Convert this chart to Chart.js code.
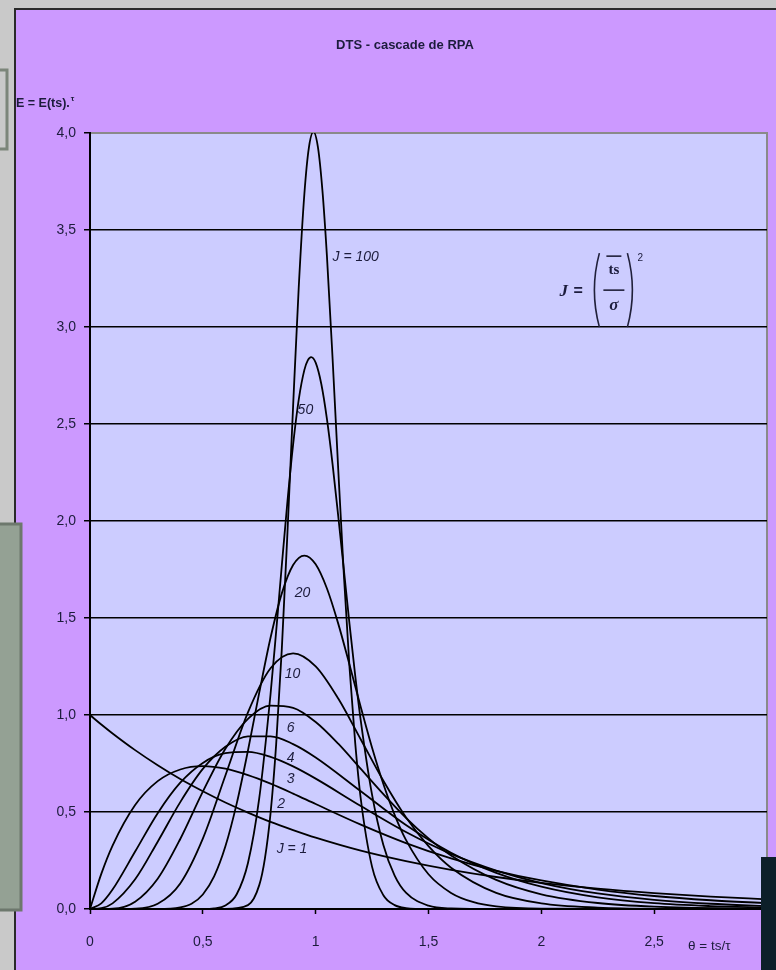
<!DOCTYPE html>
<html><head><meta charset="utf-8">
<script src="https://cdn.jsdelivr.net/npm/chart.js@4.4.1/dist/chart.umd.min.js"></script>
<style>html,body{margin:0;padding:0;background:#c9c9c9;overflow:hidden}#wrap{position:relative;width:776px;height:970px}</style>
</head><body><div id="wrap"><canvas id="c"></canvas></div>
<script>
// ---- data ----
const xTicks = [0, 0.5, 1, 1.5, 2, 2.5, 3];
const yTicks = [0, 0.5, 1, 1.5, 2, 2.5, 3, 3.5, 4];

const thetaA = [0,0.05,0.1,0.2,0.3,0.4,0.5,0.6,0.7,0.8,0.9,1.0,1.2,1.4,1.6,1.8,2.0,2.25,2.5,2.75,3.0];
const eJ1 = [1,0.951,0.905,0.819,0.741,0.670,0.607,0.549,0.497,0.449,0.407,0.368,0.301,0.247,0.202,0.165,0.135,0.105,0.082,0.064,0.050];
const eJ2 = [0,0.181,0.327,0.536,0.659,0.719,0.736,0.723,0.690,0.646,0.595,0.541,0.435,0.340,0.261,0.197,0.147,0.100,0.067,0.045,0.030];
const eJ3 = [0,0.029,0.100,0.296,0.494,0.651,0.753,0.803,0.810,0.784,0.735,0.672,0.531,0.397,0.284,0.198,0.134,0.080,0.047,0.027,0.015];
const eJ4 = [0,0.004,0.029,0.153,0.347,0.551,0.722,0.836,0.890,0.890,0.850,0.781,0.607,0.433,0.290,0.186,0.115,0.060,0.030,0.015,0.007];

const thetaB = [0,0.1,0.2,0.3,0.4,0.5,0.6,0.7,0.8,0.9,1.0,1.1,1.2,1.3,1.4,1.5,1.6,1.8,2.0,2.25,2.5,3.0];
const eJ6  = [0,0.002,0.038,0.156,0.361,0.605,0.826,0.980,1.048,1.037,0.964,0.852,0.722,0.592,0.470,0.364,0.276,0.150,0.076,0.031,0.012,0.001];
const eJ10 = [0,0,0.002,0.027,0.132,0.363,0.688,1.014,1.241,1.318,1.251,1.085,0.874,0.661,0.473,0.324,0.213,0.083,0.029,0.007,0.001,0];

const thetaC = [0,0.3,0.4,0.45,0.5,0.55,0.6,0.65,0.7,0.75,0.8,0.85,0.9,0.95,1.0,1.05,1.1,1.15,1.2,1.25,1.3,1.35,1.4,1.5,1.6,1.7,1.8,2.0,2.5,3.0];
const eJ20 = [0,0,0.008,0.027,0.075,0.168,0.323,0.543,0.817,1.115,1.398,1.627,1.773,1.822,1.777,1.652,1.471,1.259,1.040,0.831,0.644,0.485,0.356,0.179,0.083,0.035,0.014,0.002,0,0];

const thetaD = [0,0.5,0.55,0.6,0.65,0.7,0.75,0.8,0.825,0.85,0.875,0.9,0.925,0.95,0.965,0.98,1.0,1.025,1.05,1.075,1.1,1.125,1.15,1.175,1.2,1.25,1.3,1.35,1.4,1.5,1.6,1.8,2.0,3.0];
const eJ50 = [0,0,0.003,0.018,0.076,0.237,0.571,1.107,1.432,1.772,2.101,2.394,2.626,2.779,2.828,2.845,2.816,2.706,2.525,2.292,2.025,1.748,1.468,1.206,0.970,0.588,0.330,0.172,0.084,0.017,0.003,0,0,0];

const thetaE = [0,0.6,0.7,0.75,0.775,0.8,0.825,0.85,0.875,0.9,0.925,0.95,0.97,0.99,1.01,1.03,1.05,1.075,1.1,1.125,1.15,1.175,1.2,1.25,1.3,1.35,1.4,1.5,2.0,3.0];
const eJ100 = [0,0,0.020,0.123,0.260,0.493,0.850,1.341,1.941,2.591,3.205,3.687,3.925,4.006,3.927,3.703,3.364,2.836,2.267,1.722,1.245,0.859,0.567,0.217,0.071,0.020,0.005,0,0,0];

const seriesNames = ['J=1','J=2','J=3','J=4','J=6','J=10','J=20','J=50','J=100'];
const seriesTheta = [thetaA,thetaA,thetaA,thetaA,thetaB,thetaB,thetaC,thetaD,thetaE];
const seriesE     = [eJ1,eJ2,eJ3,eJ4,eJ6,eJ10,eJ20,eJ50,eJ100];

const labelTexts = ['J = 100','50','20','10','6','4','3','2','J = 1'];
const labelTheta = [1.075,0.92,0.907,0.863,0.872,0.872,0.872,0.83,0.827];
const labelE     = [3.36,2.57,1.63,1.21,0.93,0.78,0.67,0.54,0.31];

const titleText = 'DTS - cascade de RPA';
const yTitle = 'E = E(ts).';
const xTitle = 'θ = ts/τ';

// ---- chart ----
const FONT = "'Liberation Sans', Arial, sans-serif";
const TXT = '#1c1c3c';

const datasets = seriesNames.map((n, i) => ({
  label: n,
  data: seriesTheta[i].map((t, k) => ({x: t, y: seriesE[i][k]})),
  borderColor: '#000', borderWidth: 1.8, pointRadius: 0, fill: false,
  cubicInterpolationMode: 'monotone'
}));

const decor = {
  id: 'decor',
  beforeDraw(chart) {
    const c = chart.ctx, a = chart.chartArea, W = chart.width, H = chart.height;
    c.save();
    c.fillStyle = '#c9c9c9'; c.fillRect(0, 0, W, H);
    c.fillStyle = '#cc99ff'; c.fillRect(15, 9, W - 15, H - 9);
    c.strokeStyle = '#2a2a2a'; c.lineWidth = 2;
    c.beginPath(); c.moveTo(15, H); c.lineTo(15, 9); c.lineTo(W, 9); c.stroke();
    c.fillStyle = '#ccccff'; c.fillRect(a.left, a.top, a.right - a.left, a.bottom - a.top);
    c.strokeStyle = '#8a8a8a'; c.lineWidth = 2;
    c.beginPath(); c.moveTo(a.left, a.top); c.lineTo(a.right, a.top); c.lineTo(a.right, a.bottom); c.stroke();
    c.restore();
  },
  afterDatasetsDraw(chart) {
    const c = chart.ctx, xs = chart.scales.x, ys = chart.scales.y;
    c.save();
    c.fillStyle = TXT; c.textBaseline = 'middle'; c.textAlign = 'left';
    c.font = 'italic 14px ' + FONT;
    labelTexts.forEach((t, i) => {
      c.fillText(t, xs.getPixelForValue(labelTheta[i]), ys.getPixelForValue(labelE[i]));
    });
    // formula J = (ts/σ)^2 anchored at data point
    const fx = xs.getPixelForValue(2.08), fy = ys.getPixelForValue(3.19);
    c.font = 'italic bold 17px "Liberation Serif", "DejaVu Serif", serif';
    c.fillText('J', fx, fy + 1);
    c.font = 'bold 16px ' + FONT;
    c.fillText('=', fx + 14, fy + 1);
    c.strokeStyle = '#20203a'; c.lineWidth = 1.6;
    c.beginPath(); c.moveTo(fx + 40, fy - 37); c.quadraticCurveTo(fx + 30, fy, fx + 40, fy + 37); c.stroke();
    c.beginPath(); c.moveTo(fx + 68, fy - 37); c.quadraticCurveTo(fx + 78, fy, fx + 68, fy + 37); c.stroke();
    c.beginPath(); c.moveTo(fx + 47, fy - 34); c.lineTo(fx + 62, fy - 34); c.stroke();
    c.beginPath(); c.moveTo(fx + 44, fy); c.lineTo(fx + 65, fy); c.stroke();
    c.textAlign = 'center';
    c.font = 'bold 15px "Liberation Serif", "DejaVu Serif", serif';
    c.fillText('ts', fx + 54.5, fy - 20);
    c.font = 'italic bold 17px "Liberation Serif", "DejaVu Serif", serif';
    c.fillText('σ', fx + 54.5, fy + 15);
    c.font = '10px ' + FONT;
    c.fillText('2', fx + 81, fy - 32);
    c.restore();
  },
  afterDraw(chart) {
    const c = chart.ctx, W = chart.width, H = chart.height;
    c.save();
    // axis titles
    c.fillStyle = TXT; c.textBaseline = 'middle'; c.textAlign = 'left';
    c.font = 'bold 12.5px ' + FONT;
    c.fillText(yTitle, 16, 104);
    const w = c.measureText(yTitle).width;
    c.font = 'bold 8px ' + FONT;
    c.fillText('τ', 16 + w + 1, 99);
    c.font = '13.5px ' + FONT;
    c.fillText(xTitle, 688, 946);
    // overlapping boxes at the edges
    c.lineWidth = 3;
    c.fillStyle = '#c9c9c9'; c.strokeStyle = '#7c867a';
    c.beginPath(); c.rect(-6, 70, 13, 79); c.fill(); c.stroke();
    c.fillStyle = '#94a194'; c.strokeStyle = '#6d786d';
    c.beginPath(); c.rect(-6, 524, 27, 386); c.fill(); c.stroke();
    c.fillStyle = '#0c1f29';
    c.fillRect(761, 857, W - 761, H - 857);
    c.restore();
  }
};

new Chart(document.getElementById('c'), {
  type: 'line',
  data: { datasets },
  options: {
    responsive: true, maintainAspectRatio: false, animation: false,
    layout: { padding: { left: 43, right: 9, top: 0, bottom: 0 } },
    plugins: {
      legend: { display: false }, tooltip: { enabled: false },
      title: { display: true, text: titleText, color: TXT,
        font: { family: FONT, size: 13, weight: 'bold' },
        padding: { top: 38, bottom: 79.4 } }
    },
    scales: {
      x: {
        type: 'linear', min: 0, max: 3,
        afterBuildTicks: s => { s.ticks = xTicks.map(v => ({value: v})); },
        afterFit: s => { s.height = 61; s.paddingRight = 0; },
        ticks: { color: TXT, font: { family: FONT, size: 14 }, padding: 20, maxRotation: 0,
          callback: v => v === 3 ? '' : String(v).replace('.', ',') },
        grid: { drawOnChartArea: false, drawTicks: true, tickLength: 5, tickColor: '#000', tickWidth: 1.5 },
        border: { display: true, color: '#000', width: 2 }
      },
      y: {
        min: 0, max: 4,
        afterBuildTicks: s => { s.ticks = yTicks.map(v => ({value: v})); },
        afterFit: s => { s.width = 47; },
        ticks: { color: TXT, font: { family: FONT, size: 14 }, padding: 8,
          callback: v => v.toFixed(1).replace('.', ',') },
        grid: { color: c => c.tick && c.tick.value === 4 ? '#8a8a8a' : '#000', lineWidth: 1.5,
          tickLength: 6, tickColor: '#000', tickWidth: 1.5 },
        border: { display: true, color: '#000', width: 2 }
      }
    }
  },
  plugins: [decor]
});
</script></body></html>
